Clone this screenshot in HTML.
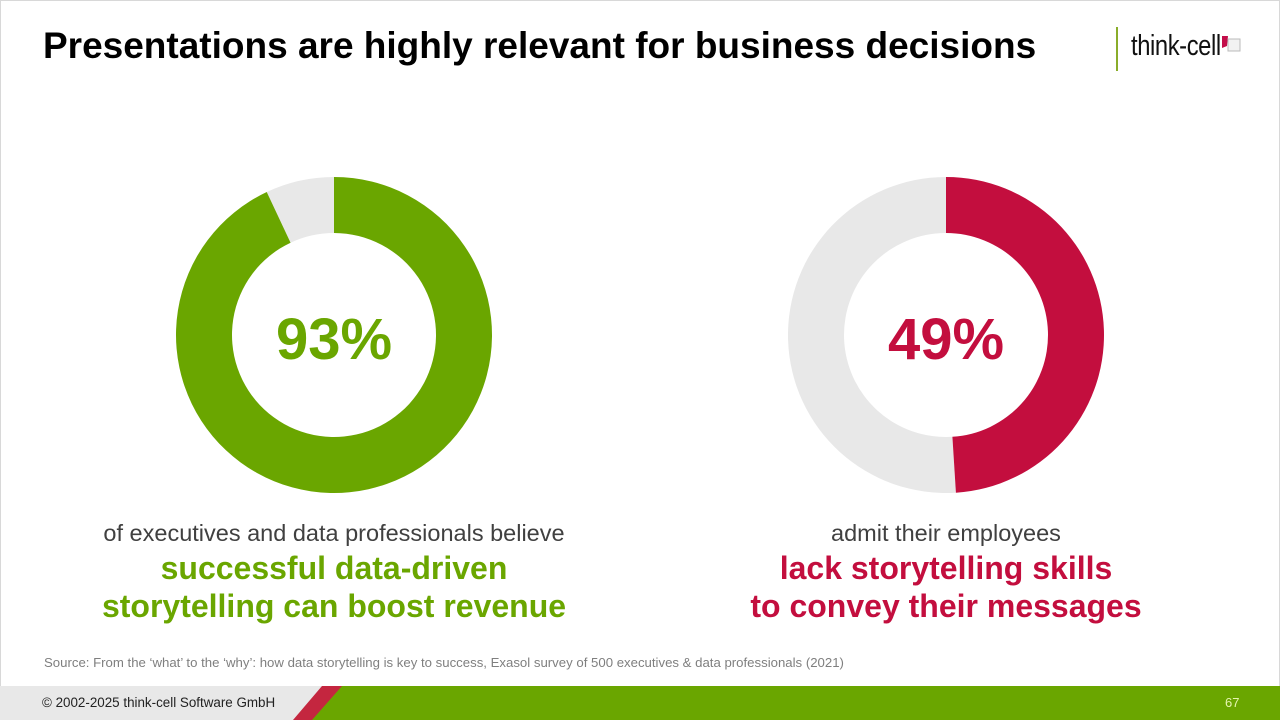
<!DOCTYPE html>
<html><head><meta charset="utf-8">
<style>
html,body{margin:0;padding:0;}
body{width:1280px;height:720px;position:relative;overflow:hidden;background:#fff;font-family:"Liberation Sans",sans-serif;}
.border{position:absolute;left:0;top:0;width:1278px;height:718px;border:1px solid #d8d8d8;}
.title{position:absolute;left:43px;top:25px;font-size:37px;font-weight:bold;color:#000;}
.logo-bar{position:absolute;left:1116px;top:27px;width:2px;height:44px;background:#8aad2a;}
.logo{position:absolute;left:1131px;top:30px;font-size:29px;color:#111;transform:scaleX(0.82);transform-origin:left top;letter-spacing:-0.5px;}
.sub{position:absolute;font-size:23.5px;color:#404040;text-align:center;width:700px;}
.big{position:absolute;font-size:32px;font-weight:bold;text-align:center;width:700px;line-height:38px;}
.src{position:absolute;left:44px;top:655px;font-size:13.2px;color:#7f7f7f;}
.foot{position:absolute;left:42px;top:695px;font-size:13.4px;color:#222;}
.pg{position:absolute;left:1225px;top:695px;font-size:13px;color:#e6f5b0;}
.pct{position:absolute;font-size:58px;font-weight:bold;width:300px;text-align:center;}
</style></head><body>
<div class="border"></div>
<div class="title">Presentations are highly relevant for business decisions</div>
<div class="logo-bar"></div>
<div class="logo">think-cell</div>
<svg style="position:absolute;left:1222px;top:36px" width="20" height="18">
<polygon points="0,0 6,0 5,10 0,12" fill="#c30e4a"/>
<rect x="6" y="3" width="12" height="12" fill="#f2f2f2" stroke="#bbb" stroke-width="1"/>
</svg>

<svg id="charts" style="position:absolute;left:0;top:0" width="1280" height="720"></svg>

<div class="pct" style="left:184px;top:306px;color:#6aa600">93%</div>
<div class="pct" style="left:796px;top:306px;color:#c30e3e">49%</div>

<div class="sub" style="left:-16px;top:520px">of executives and data professionals believe</div>
<div class="big" style="left:-16px;top:549px;color:#6aa600">successful data-driven<br>storytelling can boost revenue</div>
<div class="sub" style="left:596px;top:520px">admit their employees</div>
<div class="big" style="left:596px;top:549px;color:#c30e3e">lack storytelling skills<br>to convey their messages</div>

<div class="src">Source: From the ‘what’ to the ‘why’: how data storytelling is key to success, Exasol survey of 500 executives &amp; data professionals (2021)</div>

<svg style="position:absolute;left:0;top:686px" width="1280" height="34">
<rect x="0" y="0" width="1280" height="34" fill="#e8e8e8"/>
<polygon points="322,0 1280,0 1280,34 293,34" fill="#c4263f"/>
<polygon points="342,0 1280,0 1280,34 312,34" fill="#6aa600"/>
</svg>
<div class="foot">© 2002-2025 think-cell Software GmbH</div>
<div class="pg">67</div>

<script>
const chartNames = ["executives-believe", "employees-lack-skills"];
const chartValues = [93, 49];
const chartColors = ["#6aa600", "#c30e3e"];
const centersX = [334, 946];
const svg = document.getElementById('charts');
const NS = 'http://www.w3.org/2000/svg';
const cy = 335, rO = 158, rI = 102;
function pt(cx, r, frac) { const a = frac * 2 * Math.PI; return [cx + r * Math.sin(a), cy - r * Math.cos(a)]; }
function arc(cx, f0, f1) {
  if (f1 - f0 >= 0.9999) f1 = f0 + 0.9999;
  const large = (f1 - f0) > 0.5 ? 1 : 0;
  const [x1,y1] = pt(cx, rO, f0), [x2,y2] = pt(cx, rO, f1), [x3,y3] = pt(cx, rI, f1), [x4,y4] = pt(cx, rI, f0);
  return `M${x1},${y1} A${rO},${rO} 0 ${large} 1 ${x2},${y2} L${x3},${y3} A${rI},${rI} 0 ${large} 0 ${x4},${y4} Z`;
}
chartValues.forEach((v, i) => {
  const cx = centersX[i];
  const bg = document.createElementNS(NS, 'path');
  bg.setAttribute('d', arc(cx, v / 100, 1));
  bg.setAttribute('fill', '#e8e8e8');
  
  
  svg.appendChild(bg);
  const p = document.createElementNS(NS, 'path');
  p.setAttribute('d', arc(cx, 0, v / 100));
  p.setAttribute('fill', chartColors[i]);
  
  
  svg.appendChild(p);
});
</script>
</body></html>
